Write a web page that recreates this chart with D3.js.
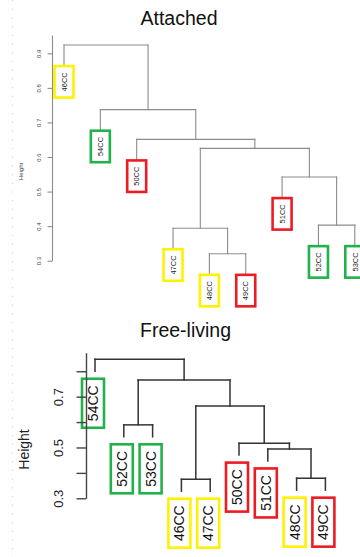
<!DOCTYPE html>
<html>
<head>
<meta charset="utf-8">
<script src="https://cdn.jsdelivr.net/npm/d3@7"></script>
<style>
  body { margin: 0; background: #fff; }
  svg { display: block; }
</style>
</head>
<body>
<svg id="chart" width="360" height="557"></svg>
<script>
// ---- Attached community: leaf order, hclust-style merges and merge heights ----
const attachedLeaves = ["46CC", "54CC", "50CC", "47CC", "48CC", "49CC", "51CC", "52CC", "53CC"];
const attachedMerge = [[-5, -6], [-4, 1], [-8, -9], [-7, 3], [2, 4], [-3, 5], [-2, 6], [-1, 7]];
const attachedHeight = [0.320, 0.394, 0.403, 0.542, 0.625, 0.651, 0.737, 0.924];
const attachedTicks = [0.3, 0.4, 0.5, 0.6, 0.7, 0.8, 0.9];
const attachedTickLabels = ["0.3", "0.4", "0.5", "0.6", "0.7", "0.8", "0.9"];

// ---- Free-living community ----
const freeLeaves = ["54CC", "52CC", "53CC", "46CC", "47CC", "50CC", "51CC", "48CC", "49CC"];
const freeMerge = [[-4, -5], [-8, -9], [-7, 2], [-6, 3], [-2, -3], [1, 4], [5, 6], [-1, 7]];
const freeHeight = [0.375, 0.379, 0.494, 0.517, 0.589, 0.663, 0.766, 0.847];
const freeTicks = [0.3, 0.4, 0.5, 0.6, 0.7, 0.8];
const freeTickLabels = ["0.3", "", "0.5", "", "0.7", ""];

// ---- Sample groups (box colours) ----
const yellowSamples = ["46CC", "47CC", "48CC"];
const greenSamples = ["52CC", "53CC", "54CC"];
const redSamples = ["49CC", "50CC", "51CC"];
const groupColor = { yellow: "#fff200", green: "#22b14c", red: "#ed1c24" };

function boxColor(name) {
  if (yellowSamples.includes(name)) return groupColor.yellow;
  if (greenSamples.includes(name)) return groupColor.green;
  return groupColor.red;
}

// Turn an hclust merge table into a d3 hierarchy
function buildTree(leaves, merge, heights) {
  const nodes = [];
  merge.forEach((pair, i) => {
    const kids = pair.map(k => (k < 0 ? { name: leaves[-k - 1] } : nodes[k - 1]));
    nodes.push({ h: heights[i], children: kids });
  });
  return d3.hierarchy(nodes[nodes.length - 1]);
}

const svg = d3.select("#chart");
const FONT = "'Liberation Sans', Arial, Helvetica, sans-serif";

// faint dotted edge on the left
svg.append("line")
  .attr("x1", 12.5).attr("x2", 12.5).attr("y1", 0).attr("y2", 557)
  .attr("stroke", "#d4d4d4").attr("stroke-width", 1.2)
  .attr("stroke-dasharray", "1.2,7.5");

function drawDendrogram(cfg) {
  const root = buildTree(cfg.leaves, cfg.merge, cfg.heights);
  const x = d3.scalePoint().domain(cfg.leaves).range(cfg.xRange);
  const y = d3.scaleLinear().domain(cfg.yDomain).range(cfg.yRange);
  const g = svg.append("g");

  // positions: leaves from the point scale, internal nodes at their children's midpoint
  root.eachAfter(n => {
    if (n.children) {
      n.px = (n.children[0].px + n.children[1].px) / 2;
      n.py = y(n.data.h);
    } else {
      n.px = x(n.data.name);
    }
  });
  root.leaves().forEach(l => { l.py = y(l.parent.data.h - cfg.hang); });

  // elbow links
  const segs = [];
  root.each(n => {
    if (!n.children) return;
    const [a, b] = n.children;
    segs.push([a.px, n.py, b.px, n.py]);
    n.children.forEach(c => segs.push([c.px, n.py, c.px, c.py]));
  });
  g.selectAll("line.link").data(segs).join("line")
    .attr("class", "link")
    .attr("x1", d => d[0]).attr("y1", d => d[1])
    .attr("x2", d => d[2]).attr("y2", d => d[3])
    .attr("stroke", cfg.lineColor).attr("stroke-width", cfg.lineWidth)
    .attr("stroke-linecap", "square");

  // boxed, rotated leaf labels
  const leaf = g.selectAll("g.leaf").data(root.leaves()).join("g").attr("class", "leaf");
  leaf.append("rect")
    .attr("x", d => d.px + cfg.boxDx - cfg.boxW / 2)
    .attr("y", d => d.py + cfg.boxGap)
    .attr("width", cfg.boxW).attr("height", cfg.boxH)
    .attr("fill", "#fff")
    .attr("stroke", d => boxColor(d.data.name))
    .attr("stroke-width", cfg.boxStroke);
  leaf.append("text")
    .attr("transform", d =>
      `translate(${d.px + cfg.boxDx + 0.36 * cfg.labelSize},${d.py + cfg.boxGap + cfg.boxH / 2}) rotate(-90)`)
    .attr("text-anchor", "middle")
    .attr("font-family", FONT).attr("font-size", cfg.labelSize)
    .attr("fill", cfg.labelColor)
    .text(d => d.data.name);

  // height axis
  const axis = d3.axisLeft(y)
    .tickValues(cfg.ticks)
    .tickFormat((d, i) => cfg.tickLabels[i])
    .tickSize(cfg.tickSize).tickSizeOuter(0);
  const ax = svg.append("g").attr("transform", `translate(${cfg.axisX},0)`).call(axis);
  ax.selectAll("path, line").attr("stroke", cfg.axisColor).attr("stroke-width", cfg.axisWidth);
  // each tick group is already shifted to its value; only move the label sideways and rotate it
  ax.selectAll(".tick text")
    .attr("x", null).attr("y", null).attr("dy", null)
    .attr("transform", `translate(${cfg.tickLabelX - cfg.axisX + 0.36 * cfg.tickFont},0) rotate(-90)`)
    .attr("text-anchor", "middle")
    .attr("font-family", FONT).attr("font-size", cfg.tickFont)
    .attr("fill", cfg.tickColor);

  svg.append("text")
    .attr("transform", `translate(${cfg.yTitleX},${cfg.yTitleY}) rotate(-90)`)
    .attr("text-anchor", "middle")
    .attr("font-family", FONT).attr("font-size", cfg.yTitleSize)
    .attr("fill", cfg.tickColor)
    .text("Height");

  svg.append("text")
    .attr("x", cfg.titleX).attr("y", cfg.titleY)
    .attr("text-anchor", "middle")
    .attr("font-family", FONT).attr("font-size", 19.5)
    .attr("fill", "#111")
    .text(cfg.title);
}

drawDendrogram({
  title: "Attached", titleX: 179, titleY: 25,
  leaves: attachedLeaves, merge: attachedMerge, heights: attachedHeight,
  xRange: [64, 354.8], yDomain: [0.3, 0.953], yRange: [260.7, 35],
  hang: 0.058,
  lineColor: "#8c8c8c", lineWidth: 1.1,
  boxW: 19, boxH: 31.5, boxGap: 1, boxDx: 0, boxStroke: 2.6,
  labelSize: 7.5, labelColor: "#222",
  ticks: attachedTicks, tickLabels: attachedTickLabels,
  axisX: 52, tickSize: 4.5, axisColor: "#8c8c8c", axisWidth: 1.1,
  tickLabelX: 38.5, tickFont: 6, tickColor: "#444",
  yTitleX: 22.8, yTitleY: 171.5, yTitleSize: 6
});

drawDendrogram({
  title: "Free-living", titleX: 185.5, titleY: 336.7,
  leaves: freeLeaves, merge: freeMerge, heights: freeHeight,
  xRange: [95, 325.4], yDomain: [0.3, 0.873], yRange: [498.3, 352.7],
  hang: 0.047,
  lineColor: "#333", lineWidth: 1.5,
  boxW: 22, boxH: 49, boxGap: 7.5, boxDx: -2, boxStroke: 2.6,
  labelSize: 14, labelColor: "#111",
  ticks: freeTicks, tickLabels: freeTickLabels,
  axisX: 86, tickSize: 9.5, axisColor: "#444", axisWidth: 1.4,
  tickLabelX: 58.5, tickFont: 13, tickColor: "#222",
  yTitleX: 28.5, yTitleY: 449.5, yTitleSize: 14
});
</script>
</body>
</html>
